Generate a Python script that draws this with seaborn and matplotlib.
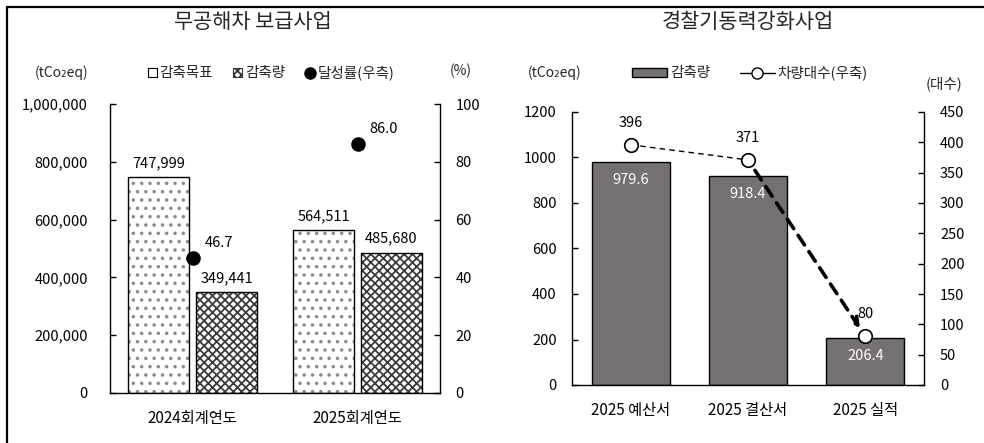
import matplotlib
matplotlib.use("Agg")
import matplotlib.pyplot as plt
import seaborn as sns
import pandas as pd
from matplotlib.patches import Patch, Rectangle
from matplotlib.lines import Line2D

sns.set_theme(style="white")
plt.rcParams["font.family"] = ["Noto Sans CJK KR", "DejaVu Sans"]
plt.rcParams["hatch.linewidth"] = 1.3

# 무공해차 보급사업
years = ["2024회계연도", "2025회계연도"]
target = [747999, 564511]
reduced = [349441, 485680]
rate = [46.7, 86.0]

# 경찰기동력강화사업
stages = ["2025 예산서", "2025 결산서", "2025 실적"]
police_reduced = [979.6, 918.4, 206.4]
vehicles = [396, 371, 80]

W, H = 984, 443
fig = plt.figure(figsize=(W / 100, H / 100), dpi=100)


def px_axes(x0, x1, ytop, ybot):
    return fig.add_axes([x0 / W, 1 - ybot / H, (x1 - x0) / W, (ybot - ytop) / H])


def style_axes(ax, axr, lpad, rpad):
    for s in ["top", "right"]:
        ax.spines[s].set_visible(False)
    for s in ["left", "bottom"]:
        ax.spines[s].set_color("black")
        ax.spines[s].set_linewidth(1.0)
    for s in ["top", "left", "bottom"]:
        axr.spines[s].set_visible(False)
    axr.spines["right"].set_color("black")
    axr.spines["right"].set_linewidth(1.0)
    ax.tick_params(axis="y", direction="in", length=4, width=1, pad=lpad,
                   labelsize=10.5, colors="black", left=True)
    axr.tick_params(axis="y", direction="in", length=4, width=1, pad=rpad,
                    labelsize=10.5, colors="black", right=True)
    ax.tick_params(axis="x", length=0, pad=12, labelsize=11, colors="black")
    ax.set_xlabel("")
    ax.set_ylabel("")
    axr.set_ylabel("")
    ax.grid(False)
    axr.grid(False)


# ---------- left panel ----------
ax1 = px_axes(110, 440, 104, 393)
df1 = pd.DataFrame({
    "year": years * 2,
    "value": target + reduced,
    "kind": ["감축목표"] * len(years) + ["감축량"] * len(years),
})
sns.barplot(data=df1, x="year", y="value", hue="kind", ax=ax1,
            width=0.824, gap=0.117, palette=["white", "white"],
            edgecolor="#6e6e6e", linewidth=0, errorbar=None, legend=False)
hatches = [("..", "#8a8a8a"), ("xxxx", "#3c3c3c")]
for cont, (h, hc) in zip(ax1.containers, hatches):
    for p in cont:
        p.set_hatch(h)
        p.set_edgecolor(hc)
        ax1.add_patch(Rectangle((p.get_x(), p.get_y()), p.get_width(), p.get_height(),
                                fill=False, edgecolor="black", linewidth=1.0, zorder=3))
    ax1.bar_label(cont, labels=[f"{v:,.0f}" for v in cont.datavalues],
                  padding=5, fontsize=10.5, color="black")
ax1.set_xlim(-0.5, len(years) - 0.5)
ax1.set_ylim(0, 1_000_000)
ax1.set_yticks(range(0, 1_000_001, 200_000))
ax1.yaxis.set_major_formatter(matplotlib.ticker.FuncFormatter(lambda v, _: f"{v:,.0f}"))

ax1r = ax1.twinx()
sns.scatterplot(x=years, y=rate, ax=ax1r, color="black", s=110, edgecolor="black",
                linewidth=0, zorder=5)
for x, v in zip(years, rate):
    ax1r.annotate(f"{v:.1f}", (x, v), xytext=(12, 8), textcoords="offset pixels",
                  ha="left", va="bottom", fontsize=10.5, color="black")
ax1r.set_ylim(0, 100)
ax1r.set_yticks(range(0, 101, 20))
style_axes(ax1, ax1r, 16, 11)

fig.text(253 / W, 1 - 22 / H, "무공해차 보급사업", fontsize=15, ha="center", va="center")
fig.text(62 / W, 1 - 73 / H, "(tCo₂eq)", fontsize=10, ha="center", va="center")
fig.text(461 / W, 1 - 71 / H, "(%)", fontsize=10, ha="center", va="center")

leg1_handles = [
    Patch(facecolor="white", edgecolor="black", linewidth=0.8, label="감축목표"),
    Patch(facecolor="white", edgecolor="#333333", hatch="xxxx", linewidth=0.8, label="감축량"),
    Line2D([0], [0], color="black", lw=0, marker="o", markersize=8, label="달성률(우측)"),
]
fig.legend(handles=leg1_handles, loc="center", bbox_to_anchor=(271 / W, 1 - 73 / H),
           ncol=3, frameon=False, fontsize=10.5, handlelength=0.6, handleheight=0.6,
           handletextpad=0.2, columnspacing=1.4, borderpad=0)

# ---------- right panel ----------
ax2 = px_axes(572, 924, 112, 385)
df2 = pd.DataFrame({"stage": stages, "value": police_reduced})
sns.barplot(data=df2, x="stage", y="value", ax=ax2, width=0.667, color="#767171",
            saturation=1, edgecolor="black", linewidth=1.0, errorbar=None)
for p, v in zip(ax2.patches, police_reduced):
    ax2.annotate(f"{v:.1f}", (p.get_x() + p.get_width() / 2, v), xytext=(0, -18),
                 textcoords="offset pixels", ha="center", va="center",
                 fontsize=10.5, color="white")
ax2.set_xlim(-0.5, len(stages) - 0.5)
ax2.set_ylim(0, 1200)
ax2.set_yticks(range(0, 1201, 200))

ax2r = ax2.twinx()
sns.lineplot(x=stages[:2], y=vehicles[:2], ax=ax2r, color="black", lw=1.0,
             linestyle=(0, (4, 3)), sort=False, zorder=4)
ax2r.annotate("", xy=(2, vehicles[2]), xytext=(1, vehicles[1]),
              arrowprops=dict(arrowstyle="->", color="black", lw=2.6,
                              linestyle=(0, (3.2, 2.2)), shrinkA=9, shrinkB=7,
                              mutation_scale=14), zorder=4)
sns.scatterplot(x=stages, y=vehicles, ax=ax2r, color="white", s=95, edgecolor="black",
                linewidth=1.2, zorder=6)
for x, v in zip(stages, vehicles):
    ax2r.annotate(f"{v}", (x, v), xytext=(0, 22), textcoords="offset pixels",
                  ha="center", va="center", fontsize=10.5, color="black")
ax2r.set_ylim(0, 450)
ax2r.set_yticks(range(0, 451, 50))
style_axes(ax2, ax2r, 11, 11.5)

fig.text(748 / W, 1 - 22 / H, "경찰기동력강화사업", fontsize=15, ha="center", va="center")
fig.text(555 / W, 1 - 73 / H, "(tCo₂eq)", fontsize=10, ha="center", va="center")
fig.text(944 / W, 1 - 84 / H, "(대수)", fontsize=10.5, ha="center", va="center")

leg2_handles = [
    Patch(facecolor="#767171", edgecolor="black", linewidth=1.0, label="감축량"),
    Line2D([0], [0], color="black", lw=1.0, marker="o", markerfacecolor="white",
           markeredgecolor="black", markersize=8, label="차량대수(우축)"),
]
fig.legend(handles=leg2_handles, loc="center", bbox_to_anchor=(750 / W, 1 - 73 / H),
           ncol=2, frameon=False, fontsize=10.5, handlelength=2.4, handleheight=0.55,
           handletextpad=0.2, columnspacing=2.0, borderpad=0)

# outer frame
fig.add_artist(Line2D([7 / W, 1], [1 - 6.5 / H, 1 - 6.5 / H], color="black", lw=1.6))
fig.add_artist(Line2D([7 / W, 7 / W], [0, 1 - 6.5 / H], color="black", lw=1.6))

fig.savefig("out.png", dpi=100, facecolor="white")
